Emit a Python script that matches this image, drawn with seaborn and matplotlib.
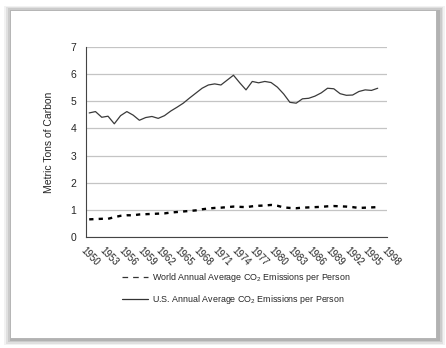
import numpy as np
import pandas as pd
import matplotlib
matplotlib.use("Agg")
import matplotlib.pyplot as plt
from matplotlib.patches import FancyBboxPatch
from matplotlib.lines import Line2D
import seaborn as sns

years = list(range(1950, 1997))
us_values = [4.57, 4.62, 4.41, 4.45, 4.17, 4.47, 4.62, 4.49, 4.30, 4.40,
             4.44, 4.37, 4.47, 4.64, 4.78, 4.93, 5.12, 5.30, 5.48, 5.60,
             5.64, 5.60, 5.78, 5.96, 5.68, 5.42, 5.73, 5.68, 5.73, 5.69,
             5.52, 5.27, 4.96, 4.93, 5.09, 5.11, 5.19, 5.31, 5.48, 5.46,
             5.28, 5.22, 5.23, 5.36, 5.42, 5.40, 5.48]
world_values = [0.65, 0.66, 0.67, 0.67, 0.73, 0.78, 0.80, 0.80, 0.83, 0.84,
                0.85, 0.86, 0.87, 0.90, 0.92, 0.94, 0.96, 0.98, 1.02, 1.05,
                1.07, 1.08, 1.10, 1.12, 1.11, 1.10, 1.13, 1.15, 1.16, 1.18,
                1.15, 1.09, 1.07, 1.06, 1.08, 1.09, 1.10, 1.11, 1.13, 1.14,
                1.13, 1.12, 1.10, 1.07, 1.08, 1.09, 1.10]
tick_years = list(range(1950, 1999))
y_ticks = [0, 1, 2, 3, 4, 5, 6, 7]
world_label = r"World Annual Average CO$_2$ Emissions per Person"
us_label = r"U.S. Annual Average CO$_2$ Emissions per Person"
y_label = "Metric Tons of Carbon"

sns.set_theme(style="white")
plt.rcParams['font.family'] = ['Liberation Sans', 'DejaVu Sans']
plt.rcParams['mathtext.fontset'] = 'custom'
plt.rcParams['mathtext.rm'] = 'Liberation Sans'
plt.rcParams['mathtext.it'] = 'Liberation Sans'
plt.rcParams['mathtext.default'] = 'regular'

df = pd.DataFrame({"year": years, "us": us_values, "world": world_values})

fig = plt.figure(figsize=(4.46, 3.48), dpi=100)
fig.patch.set_facecolor("white")

# card with shadow
for i, a in enumerate([0.05, 0.07, 0.09, 0.12]):
    off = (4 - i) * 0.004
    fig.patches.append(FancyBboxPatch((0.022 - off + 0.004, 0.028 - off - 0.004),
                                      0.956 + 2 * off, 0.944 + 2 * off,
                                      boxstyle="square,pad=0", transform=fig.transFigure,
                                      facecolor="black", edgecolor="none", alpha=a, zorder=-3))
fig.patches.append(FancyBboxPatch((0.022, 0.028), 0.956, 0.944,
                                  boxstyle="square,pad=0", transform=fig.transFigure,
                                  facecolor="white", edgecolor="#b0b0b0", linewidth=0.6, zorder=-2))

ax = fig.add_axes([0.193, 0.319, 0.675, 0.546])
ax.set_zorder(2)
ax.set_facecolor("none")

sns.lineplot(data=df, x="year", y="us", ax=ax, color="#3a3a3a", linewidth=0.9,
             label=us_label, legend=False)
sns.lineplot(data=df, x="year", y="world", ax=ax, color="black", linewidth=1.7,
             label=world_label, legend=False)
ax.lines[1].set_linestyle((0, (1.8, 2.2)))

ax.set_xlim(1949.5, 1997.5)
ax.set_ylim(0, 7)
ax.set_xticks([t - 0.5 for t in tick_years])
ax.set_xticklabels([str(t) if (t - 1950) % 3 == 0 else "" for t in tick_years],
                   rotation=-45, ha="left", va="top", rotation_mode="anchor", fontsize=7)
ax.set_yticks(y_ticks)
ax.set_yticklabels([str(v) for v in y_ticks], fontsize=7.5)
ax.yaxis.grid(True, color="#c4c4c4", linewidth=0.9)
ax.xaxis.grid(False)
for s in ["top", "right"]:
    ax.spines[s].set_visible(False)
for s in ["left", "bottom"]:
    ax.spines[s].set_color("#444444")
    ax.spines[s].set_linewidth(0.8)
ax.tick_params(axis="x", direction="out", length=3, width=0.6, color="#444444", pad=3)
ax.tick_params(axis="y", direction="out", length=3, width=0.6, color="#444444", pad=4)
ax.set_xlabel("")
ax.set_ylabel(y_label, fontsize=7.5, labelpad=12)

handles = [Line2D([], [], color="#333333", linewidth=0.9, linestyle=(0, (4.5, 4))),
           Line2D([], [], color="#333333", linewidth=0.9)]
fig.legend(handles, [world_label, us_label], loc="upper left",
           bbox_to_anchor=(0.265, 0.232), frameon=False, fontsize=6.4,
           handlelength=2.9, handletextpad=0.55, labelspacing=1.0, borderaxespad=0)

fig.savefig("out.png", dpi=100, facecolor="white")
